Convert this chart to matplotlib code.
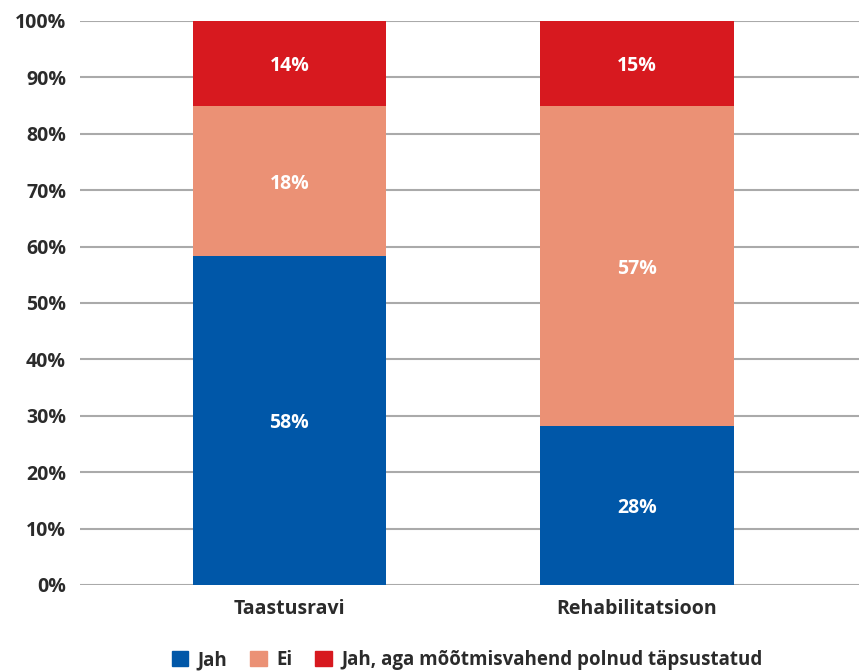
import matplotlib
matplotlib.use("Agg")
import matplotlib.pyplot as plt
from matplotlib.patches import Patch

categories = ["Taastusravi", "Rehabilitatsioon"]
series_names = ["Jah", "Ei", "Jah, aga mõõtmisvahend polnud täpsustatud"]
# segment heights as drawn
jah = [58.3, 28.2]
ei = [26.6, 56.7]
jah_aga = [15.1, 15.1]
# labels as printed
jah_lbl = ["58%", "28%"]
ei_lbl = ["18%", "57%"]
jah_aga_lbl = ["14%", "15%"]
yticks = [0, 10, 20, 30, 40, 50, 60, 70, 80, 90, 100]

colors = ["#0057A8", "#EB9175", "#D7191F"]
txt = "#2b2b2b"
plt.rcParams['font.family'] = ['Open Sans', 'DejaVu Sans']

fig = plt.figure(figsize=(8.59, 6.72), dpi=100)
ax = fig.add_axes([80/859, 1-585/672, 779/859, (585-21)/672])

x = list(range(len(categories)))
w = 0.558
bottoms = [0]*len(categories)
for vals, lbls, c in [(jah, jah_lbl, colors[0]), (ei, ei_lbl, colors[1]), (jah_aga, jah_aga_lbl, colors[2])]:
    bars = ax.bar(x, vals, w, bottom=bottoms, color=c, zorder=3)
    for xi, v, b, l in zip(x, vals, bottoms, lbls):
        ax.text(xi, b + v/2 - 0.5, l, ha='center', va='center', color='white',
                fontsize=14, fontweight='bold', zorder=4)
    bottoms = [b + v for b, v in zip(bottoms, vals)]

ax.set_ylim(0, 100)
ax.set_xlim(-0.603, 1.64)
ax.set_yticks(yticks)
ax.set_yticklabels([f"{t}%" for t in yticks], fontsize=14, fontweight='bold', color=txt)
ax.set_xticks(x)
ax.set_xticklabels(categories, fontsize=14, fontweight='bold', color=txt)
ax.tick_params(axis='y', length=0, pad=10)
ax.tick_params(axis='x', length=0, pad=10)
ax.yaxis.grid(True, color='#aaaaaa', linewidth=1.5, zorder=0)
for s in ax.spines.values():
    s.set_visible(False)

handles = [Patch(color=c, label=n) for c, n in zip(colors, series_names)]
fig.legend(handles=handles, loc='center', bbox_to_anchor=(467/859, 1-660/672), ncol=3,
           frameon=False, handlelength=0.9, handleheight=0.9, handletextpad=0.5,
           columnspacing=1.2, prop={'family': 'Open Sans', 'weight': 'bold', 'size': 13.5},
           labelcolor=txt)

fig.savefig("out.png", dpi=100)
